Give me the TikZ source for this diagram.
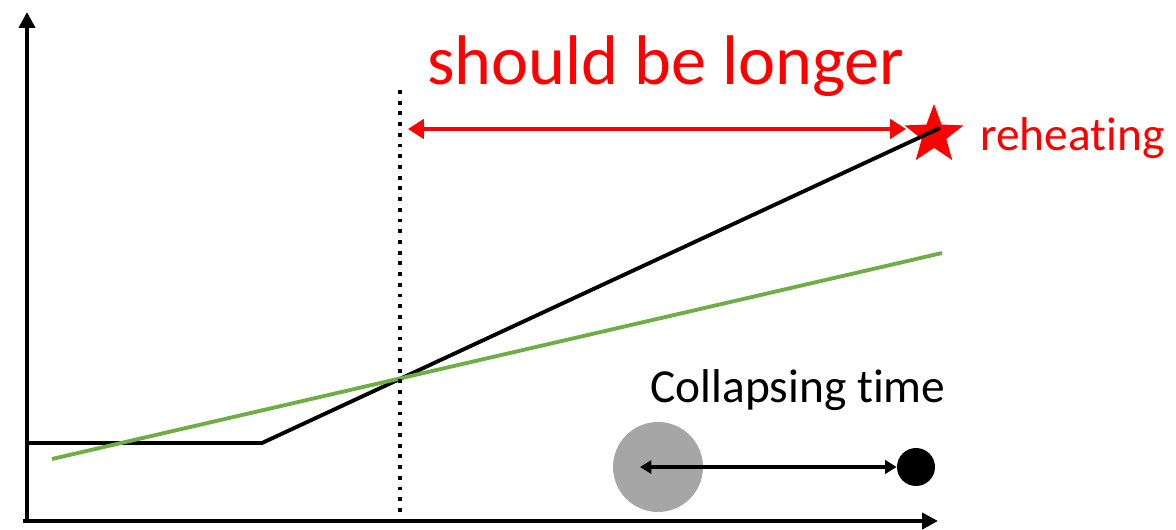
\documentclass[tikz,border=0pt]{standalone}
\usepackage{fontspec}
\setmainfont{Carlito}[Ligatures=NoCommon]
\usetikzlibrary{
  shapes.geometric,
  arrows.meta,
  positioning,
  calc
}
\definecolor{redline}{HTML}{FF0000}
\definecolor{greenline}{HTML}{70AD47}
\definecolor{blob}{HTML}{A6A6A6}
\definecolor{ink}{HTML}{000000}
\tikzset{
  axis/.style={
    -{Triangle[length=9pt, width=9pt]},
    line width=2.3pt,
    draw=ink,
  },
  curve/.style={
    line width=2.2pt,
    draw=#1,
    line join=round,
  },
  curve/.default=ink,
  marker/.style={
    line width=2.2pt,
    draw=ink,
    dash pattern=on 2.2pt off 3.9pt,
  },
  span/.style={
    {Triangle[length=9pt, width=11pt]}-{Triangle[length=9pt, width=11pt]},
    line width=1.8pt,
    draw=redline,
  },
  spansmall/.style={
    {Triangle[length=6.5pt, width=7.5pt]}-{Triangle[length=6.5pt, width=7.5pt]},
    line width=1.8pt,
    draw=ink,
  },
  bigtxt/.style={
    font=\fontsize{40}{46}\selectfont,
    text=redline,
    inner sep=0pt,
    anchor=base west,
  },
  smalltxt/.style={
    font=\fontsize{27}{32}\selectfont,
    text=#1,
    inner sep=0pt,
    anchor=base west,
  },
  smalltxt/.default=ink,
  dot/.style={
    circle,
    fill=#1,
    inner sep=0pt,
  },
}

\begin{document}
\begin{tikzpicture}[x=0.02cm, y=-0.02cm]

\useasboundingbox (0,0) rectangle (1176,530);

% === AXES ===

\coordinate (origin) at (27,521);
\coordinate (ytip) at (27,12);
\coordinate (xtip) at (938,521);
\draw[axis] ($(origin)+(0,1)$) -- (ytip);
\draw[axis] ($(origin)+(-4,0)$) -- (xtip);

% === STAR (behind the black line) ===

\node[star, star points=5, star point ratio=2.4, fill=redline, inner sep=0pt,
  minimum size=1.24cm] (star) at (934,135) {};

% === CURVES ===

\coordinate (bstart) at (29,443);
\coordinate (bkink) at (262,443);
\coordinate (bend) at (940,128);
\draw[curve] (bstart) -- (bkink) -- (bend);

\coordinate (gstart) at (52,459);
\coordinate (gend) at (942,253);
\draw[curve=greenline] (gstart) -- (gend);

% === DOTTED MARKER ===

\coordinate (mtop) at (400,90);
\coordinate (mbot) at (400,516);
\draw[marker] (mtop) -- (mbot);

% === RED SPAN + LABELS ===

\coordinate (sleft) at (408,129);
\coordinate (sright) at (906,129);
\draw[span] (sleft) -- (sright);

\node[bigtxt] (longer) at (427,85) {should be longer};
\node[smalltxt=redline] (reheat) at (980,151) {reheating};

% === COLLAPSING TIME ===

\node[dot=blob, minimum size=1.8cm] (cloud) at (658,467) {};
\node[dot=ink, minimum size=0.76cm] (core) at (916,467) {};
\draw[spansmall] (cloud.center) ++(-18,0) coordinate (cleft)
  (cleft) -- (core.west);

\node[smalltxt] (ctime) at (650,402) {Collapsing time};

\end{tikzpicture}
\end{document}
